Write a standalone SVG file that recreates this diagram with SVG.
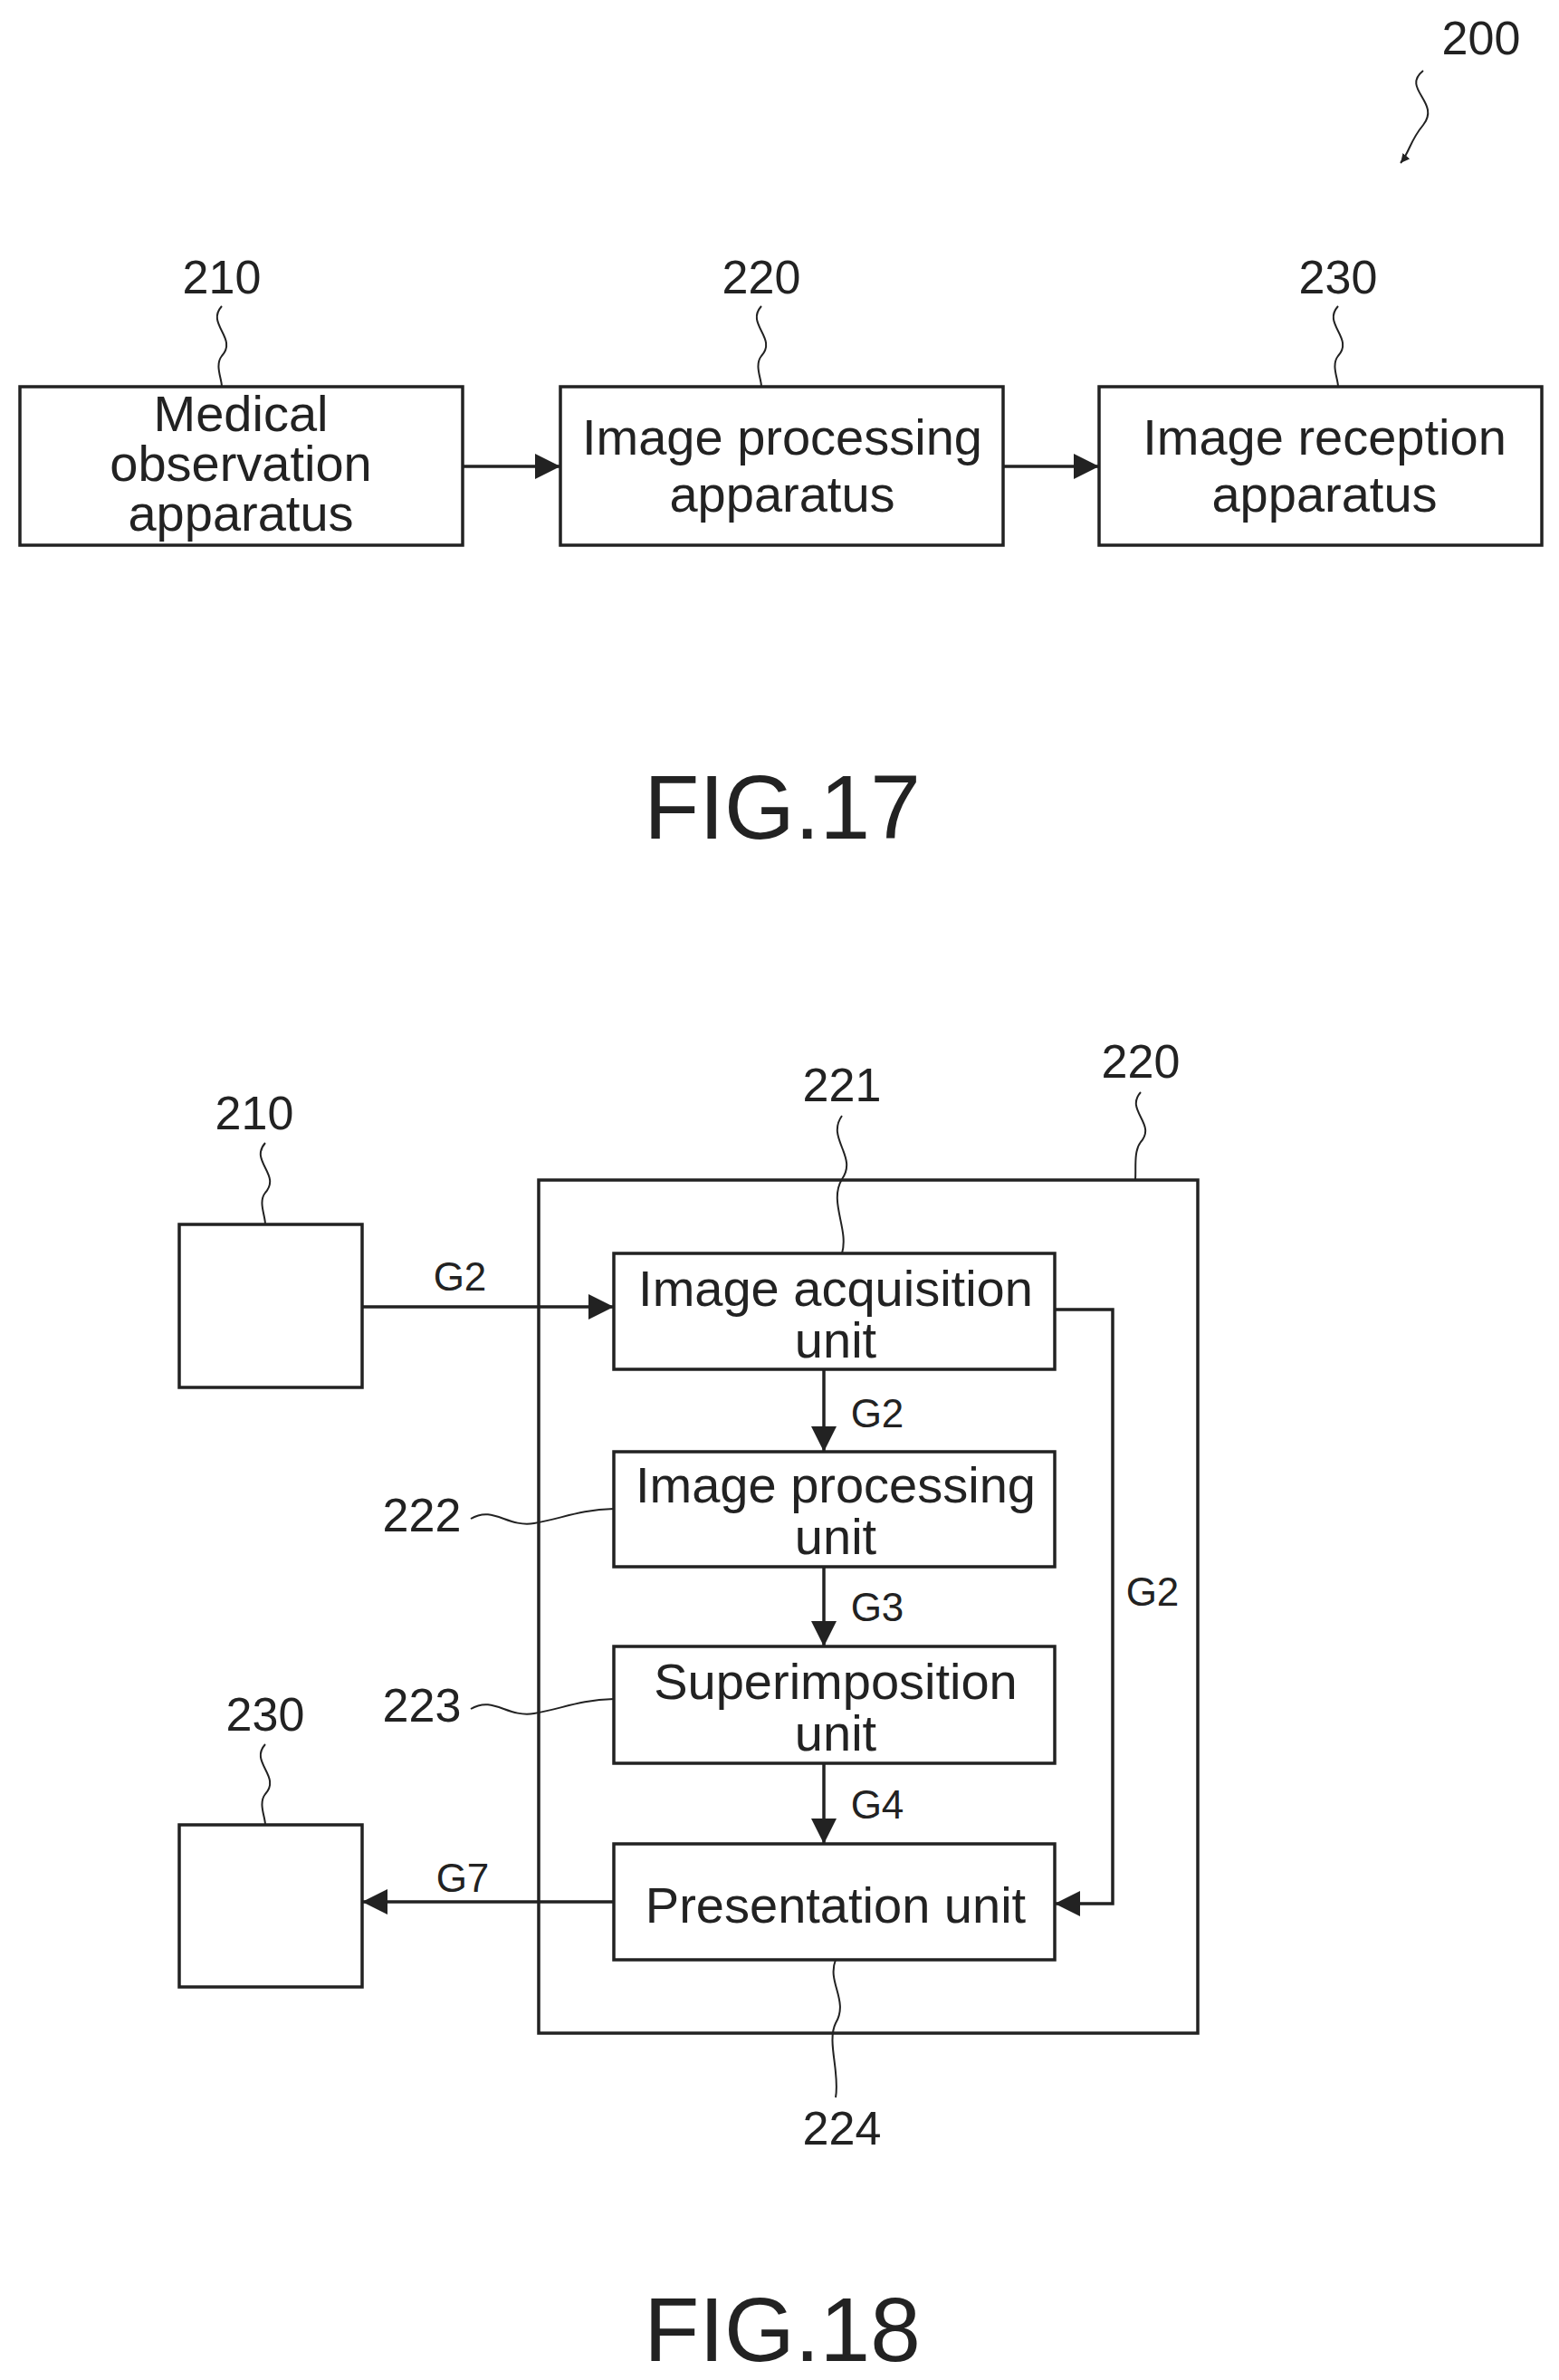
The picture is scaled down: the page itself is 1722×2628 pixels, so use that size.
<svg xmlns="http://www.w3.org/2000/svg" width="1722" height="2628" viewBox="0 0 1722 2628">
<style>
text{font-family:"Liberation Sans",Arial,sans-serif;fill:#222;text-anchor:middle;dominant-baseline:central}
.b{fill:#fff;stroke:#222;stroke-width:3.5}
.t{font-size:56px}
.n{font-size:52px}
.g{font-size:44px}
.f{font-size:100px}
.l{fill:none;stroke:#222;stroke-width:3.5}
.w{fill:none;stroke:#222;stroke-width:2}
</style>
<defs><marker id="a" viewBox="0 0 10 10" refX="10" refY="5" markerWidth="10" markerHeight="10" markerUnits="userSpaceOnUse" orient="auto"><path d="M0,0L10,5L0,10z" fill="#222"/></marker>
<marker id="A" viewBox="0 0 10 10" refX="10" refY="5" markerWidth="34" markerHeight="28" markerUnits="userSpaceOnUse" orient="auto"><path d="M0,0L10,5L0,10z" fill="#222"/></marker></defs>
<text class="n" x="1636" y="42">200</text>
<path class="w" d="M1572,78 c-25,20 20,35 0,60 c-15,18 -15,30 -25,42" marker-end="url(#a)"/>
<g id="n210"><rect class="b" x="22" y="427" width="489" height="175"/><text class="t" x="266" y="456">Medical</text><text class="t" x="266" y="511">observation</text><text class="t" x="266" y="566">apparatus</text></g>
<g id="n220"><rect class="b" x="619" y="427" width="489" height="175"/><text class="t" x="864" y="482">Image processing</text><text class="t" x="864" y="545">apparatus</text></g>
<g id="n230"><rect class="b" x="1214" y="427" width="489" height="175"/><text class="t" x="1463" y="482">Image reception</text><text class="t" x="1463" y="545">apparatus</text></g>
<text class="n" x="245" y="306">210</text><text class="n" x="841" y="306">220</text><text class="n" x="1478" y="306">230</text>
<path class="w" d="M245,338 c-18,20 18,35 0,55 c-8,10 0,25 0,34"/>
<path class="w" d="M841,338 c-18,20 18,35 0,55 c-8,10 0,25 0,34"/>
<path class="w" d="M1478,338 c-18,20 18,35 0,55 c-8,10 0,25 0,34"/>
<g id="c17"><path class="l" d="M511,515H619" marker-end="url(#A)"/><path class="l" d="M1108,515H1214" marker-end="url(#A)"/></g>
<text class="f" x="864" y="891">FIG.17</text>
<g id="n220b"><rect class="b" x="595" y="1303" width="728" height="942"/></g>
<g id="n210b"><rect class="b" x="198" y="1352" width="202" height="180"/></g>
<g id="n230b"><rect class="b" x="198" y="2015" width="202" height="179"/></g>
<g id="n221"><rect class="b" x="678" y="1384" width="487" height="128"/><text class="t" x="923" y="1422">Image acquisition</text><text class="t" x="923" y="1479">unit</text></g>
<g id="n222"><rect class="b" x="678" y="1603" width="487" height="127"/><text class="t" x="923" y="1639">Image processing</text><text class="t" x="923" y="1696">unit</text></g>
<g id="n223"><rect class="b" x="678" y="1818" width="487" height="129"/><text class="t" x="923" y="1856">Superimposition</text><text class="t" x="923" y="1913">unit</text></g>
<g id="n224"><rect class="b" x="678" y="2036" width="487" height="128"/><text class="t" x="923" y="2103">Presentation unit</text></g>
<g id="c18">
<path class="l" d="M400,1443H678" marker-end="url(#A)"/>
<path class="l" d="M910,1512V1603" marker-end="url(#A)"/>
<path class="l" d="M910,1730V1818" marker-end="url(#A)"/>
<path class="l" d="M910,1947V2036" marker-end="url(#A)"/>
<path class="l" d="M1165,1446H1229V2102H1165" marker-end="url(#A)"/>
<path class="l" d="M678,2100H400" marker-end="url(#A)"/>
</g>
<text class="g" x="508" y="1409">G2</text><text class="g" x="969" y="1560">G2</text><text class="g" x="969" y="1774">G3</text><text class="g" x="969" y="1992">G4</text><text class="g" x="1273" y="1757">G2</text><text class="g" x="511" y="2073">G7</text>
<text class="n" x="281" y="1229">210</text><text class="n" x="293" y="1893">230</text><text class="n" x="930" y="1198">221</text><text class="n" x="1260" y="1172">220</text><text class="n" x="466" y="1673">222</text><text class="n" x="466" y="1883">223</text><text class="n" x="930" y="2350">224</text>
<path class="w" d="M293,1262 c-18,20 18,35 0,55 c-8,10 0,25 0,35"/>
<path class="w" d="M293,1926 c-18,20 18,35 0,55 c-8,10 0,25 0,34"/>
<path class="w" d="M930,1232 c-18,25 18,45 0,70 c-15,25 8,55 0,82"/>
<path class="w" d="M1260,1206 c-18,20 18,35 0,55 c-8,10 -5,30 -6,42"/>
<path class="w" d="M520,1677 c25,-15 40,10 70,5 c30,-5 50,-15 88,-16"/>
<path class="w" d="M520,1887 c25,-15 40,10 70,5 c30,-5 50,-15 88,-16"/>
<path class="w" d="M923,2164 c-10,25 15,45 0,70 c-10,20 5,55 0,82"/>
<text class="f" x="864" y="2572">FIG.18</text>
</svg>
